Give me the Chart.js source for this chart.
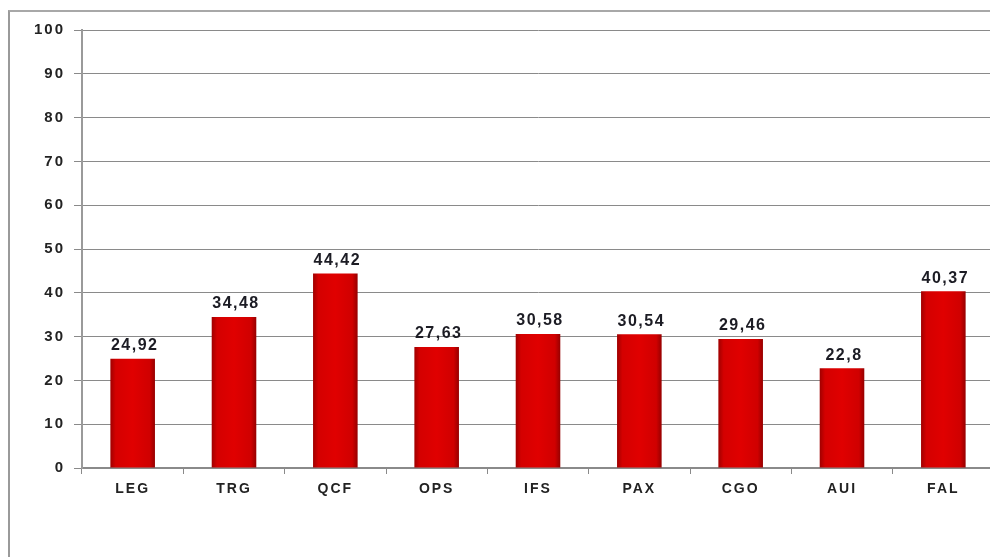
<!DOCTYPE html>
<html>
<head>
<meta charset="utf-8">
<script src="https://cdn.jsdelivr.net/npm/chart.js@4/dist/chart.umd.min.js"></script>
<style>
  html, body { margin: 0; padding: 0; background: #fff; overflow: hidden; width: 990px; height: 557px; }
  #wrap { position: absolute; left: 0; top: 0; width: 1010px; height: 557px; }
  #frame { position: absolute; left: 8px; top: 10px; width: 1200px; height: 700px; border-left: 2px solid #9a9a9a; border-top: 2px solid #a8a8a8; box-sizing: border-box; }
</style>
</head>
<body>
<div id="frame"></div>
<div id="wrap"><canvas id="c" width="1010" height="557"></canvas></div>
<script>
const categories = ["LEG", "TRG", "QCF", "OPS", "IFS", "PAX", "CGO", "AUI", "FAL"];
const values = [24.92, 34.48, 44.42, 27.63, 30.58, 30.54, 29.46, 22.8, 40.37];
const yTicks = [0, 10, 20, 30, 40, 50, 60, 70, 80, 90, 100];

const FONT = "'Liberation Sans', Arial, sans-serif";

function barFill(ctx) {
  const c = ctx.chart;
  if (!c.chartArea || !c.scales.x) return '#d00000';
  const xs = c.scales.x;
  const x = xs.getPixelForValue(ctx.dataIndex);
  const w = (xs.width / categories.length) * 0.44;
  const g = c.ctx.createLinearGradient(x - w / 2, 0, x + w / 2, 0);
  g.addColorStop(0, '#a00000');
  g.addColorStop(0.12, '#d40000');
  g.addColorStop(0.5, '#e00000');
  g.addColorStop(0.88, '#d00000');
  g.addColorStop(1, '#960000');
  return g;
}

const spacingPlugin = {
  id: 'spacing',
  beforeDraw(chart) { chart.ctx.letterSpacing = '2px'; }
};

const valueLabels = {
  id: 'valueLabels',
  afterDatasetsDraw(chart) {
    const ctx = chart.ctx;
    const meta = chart.getDatasetMeta(0);
    ctx.save();
    ctx.letterSpacing = '1.5px';
    ctx.font = "bold 16px " + FONT;
    ctx.fillStyle = '#1c1c24';
    ctx.textAlign = 'center';
    ctx.textBaseline = 'bottom';
    meta.data.forEach((bar, i) => {
      const txt = String(values[i]).replace('.', ',');
      ctx.fillText(txt, bar.x + 2, bar.y - 5);
    });
    ctx.restore();
  }
};

new Chart(document.getElementById('c'), {
  type: 'bar',
  data: {
    labels: categories,
    datasets: [{
      data: values,
      backgroundColor: barFill,
      borderWidth: 0,
      barPercentage: 0.44,
      categoryPercentage: 1.0
    }]
  },
  options: {
    responsive: false,
    animation: false,
    devicePixelRatio: 1,
    layout: { padding: { left: 0, top: 30, right: 16, bottom: 0 } },
    plugins: { legend: { display: false }, tooltip: { enabled: false } },
    scales: {
      x: {
        offset: true,
        grid: { display: true, drawOnChartArea: false, offset: true, tickLength: 6, color: '#8a8a8a', lineWidth: 1 },
        border: { display: true, color: '#8a8a8a', width: 2 },
        ticks: { color: '#222', font: { family: FONT, size: 14, weight: 'bold' }, padding: 7, maxRotation: 0 },
        afterFit(s) { s.height = 89; }
      },
      y: {
        min: 0, max: 100,
        afterBuildTicks(s) { s.ticks = yTicks.map(v => ({ value: v })); },
        grid: { color: '#8a8a8a', lineWidth: 1, tickLength: 8 },
        border: { display: true, color: '#9a9a9a', width: 2 },
        ticks: { color: '#222', font: { family: FONT, size: 15, weight: 'bold' }, padding: 9 },
        afterFit(s) { s.width = 82; }
      }
    }
  },
  plugins: [spacingPlugin, valueLabels]
});
</script>
</body>
</html>
